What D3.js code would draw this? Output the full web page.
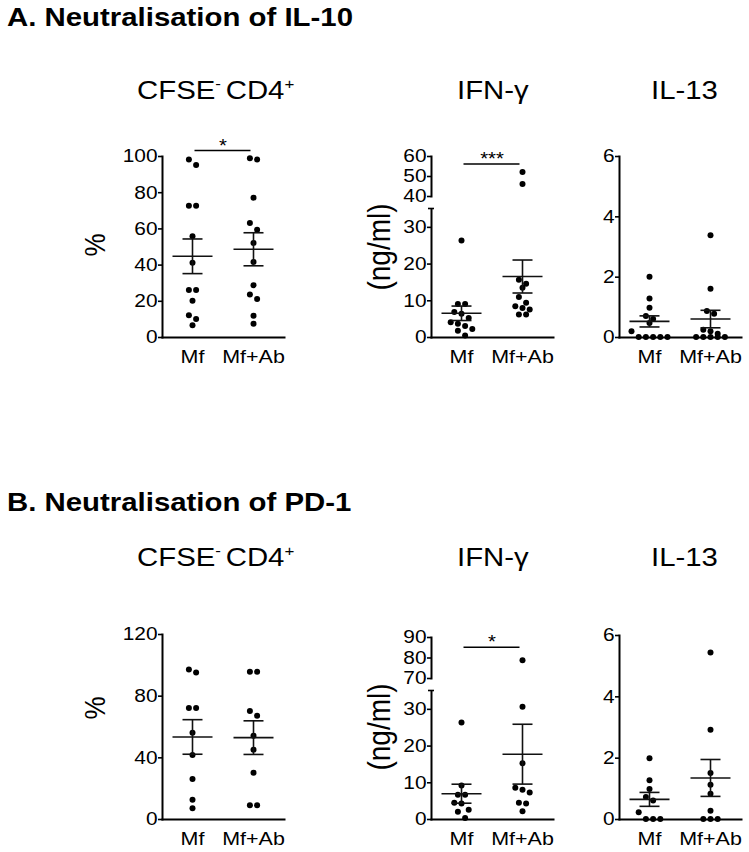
<!doctype html>
<html>
<head>
<meta charset="utf-8">
<script src="https://cdnjs.cloudflare.com/ajax/libs/d3/7.8.5/d3.min.js"></script>
<style>
	body { margin: 0; background: #fff; }
	svg text { font-family: "Liberation Sans", Arial, Helvetica, sans-serif; fill: #000; }
</style>
</head>
<body>
<script>

	// the figure text is a little wider than plain Arial, so every label is stretched in x
	var SX = 1.13;

	var groups = ["Mf", "Mf+Ab"];

	// A. Neutralisation of IL-10 (12 donors per group)
	var cfseA_mf = [98, 95, 72.5, 72.5, 55.6, 41, 26, 26, 20, 12, 10, 6.5];
	var cfseA_ab = [98.7, 98, 77, 63, 59.3, 52, 41.5, 28.6, 23.5, 21, 11.7, 7.3];
	var ifnA_mf = [26.3, 9.0, 9.0, 6.8, 6.3, 5.2, 4.0, 3.6, 3.0, 2.2, 1.7, 0.4];
	var ifnA_ab = [52, 46, 15.6, 14.5, 13.4, 10.9, 9.3, 8.4, 7.9, 7.5, 6.1, 6.1];
	var il13A_mf = [2.0, 1.28, 0.97, 0.7, 0.6, 0.46, 0.19, 0, 0, 0, 0, 0];
	var il13A_ab = [3.37, 1.6, 0.86, 0.77, 0.24, 0.19, 0.11, 0, 0, 0, 0, 0];

	// B. Neutralisation of PD-1 (9 donors per group)
	var cfseB_mf = [97, 95, 72, 72, 56, 41.5, 26, 12.5, 7];
	var cfseB_ab = [95.5, 95.5, 70, 67, 54, 45, 30, 9, 9];
	var ifnB_mf = [26.3, 9.1, 6.6, 6.6, 4.4, 4.2, 2.5, 2.0, 0.3];
	var ifnB_ab = [78.7, 30.6, 15.2, 8.5, 8.0, 7.2, 4.4, 4.2, 2.1];
	var il13B_mf = [1.98, 1.26, 0.98, 0.72, 0.6, 0.22, 0, 0, 0];
	var il13B_ab = [5.43, 2.91, 1.5, 1.12, 0.82, 0.27, 0, 0, 0];

	// tick labels (broken IFN axes: lower part, upper part)
	var cfseA_ticks = [0, 20, 40, 60, 80, 100];
	var cfseB_ticks = [0, 40, 80, 120];
	var ifnA_ticks = [[0, 10, 20, 30], [40, 50, 60]];
	var ifnB_ticks = [[0, 10, 20, 30], [70, 80, 90]];
	var il13_ticks = [0, 2, 4, 6];
	var ifnBreak = 35;

	// significance bars: [value, stars]
	var cfseA_sig = [103, "*"];
	var ifnA_sig = [56, "***"];
	var ifnB_sig = [85, "*"];

	var svg = d3.select("body").append("svg")
		.attr("width", 749)
		.attr("height", 852);

	function txt(sel, x, y, s, size, o) {
		o = o || {};
		return sel.append("text")
			.attr("transform", "translate(" + x + "," + y + ") scale(" + SX + ",1)" + (o.rot ? " rotate(-90)" : ""))
			.attr("font-size", size)
			.attr("font-weight", o.bold ? "bold" : null)
			.attr("text-anchor", o.anchor || "start")
			.text(s);
	}

	function cfseTitle(x, y) {
		var t = txt(svg, x, y, null, 26);
		t.append("tspan").text("CFSE");
		t.append("tspan").attr("font-size", 15).attr("dy", -10).text("- ");
		t.append("tspan").attr("dy", 10).text("CD4");
		t.append("tspan").attr("font-size", 15).attr("dy", -10).text("+");
	}

	// GraphPad style scatter: points close in y share a row and are spread around the centre
	function swarm(vals, y) {
		var idx = vals.map(function(v, i) { return i; })
			.sort(function(a, b) { return vals[b] - vals[a]; });
		var rows = [];
		idx.forEach(function(i) {
			var py = y(vals[i]);
			var r = rows[rows.length - 1];
			if (r && Math.abs(py - r.y) < 7) r.items.push(i);
			else rows.push({ y: py, items: [i] });
		});
		var off = [];
		rows.forEach(function(r) {
			r.items.forEach(function(i, k) { off[i] = (k - (r.items.length - 1) / 2) * 7.2; });
		});
		return off;
	}

	function drawPanel(p) {
		var g = svg.append("g").attr("transform", "translate(" + p.x + "," + p.y0 + ")");
		var x = d3.scaleBand().domain(groups).range([0, 122]);
		var bw = x.bandwidth() / 2;

		// y scale, polylinear when the axis is broken
		var y, segs;
		if (p.ticks.length == 2) {
			var lo = p.ticks[1][0], hi = p.ticks[1][p.ticks[1].length - 1];
			y = d3.scaleLinear().domain([0, ifnBreak, lo, hi]).range([0, -128.5, -141, -p.h]);
			segs = [
				{ s: d3.scaleLinear().domain([0, ifnBreak]).range([0, -128.5]), t: p.ticks[0] },
				{ s: d3.scaleLinear().domain([lo, hi]).range([-141, -p.h]), t: p.ticks[1] }
			];
		} else {
			var mx = p.ticks[p.ticks.length - 1];
			y = d3.scaleLinear().domain([0, mx]).range([0, -p.h]);
			segs = [{ s: y, t: p.ticks }];
		}

		segs.forEach(function(sg) {
			var ax = g.append("g")
				.call(d3.axisLeft(sg.s).tickValues(sg.t).tickFormat(d3.format("d")).tickSize(4).tickSizeOuter(0))
				.attr("font-size", 18.5)
				.attr("font-family", null);
			ax.select(".domain").attr("stroke-width", 2).attr("stroke-linecap", "square");
			ax.selectAll(".tick line").attr("stroke-width", 1.6);
			ax.selectAll(".tick text")
				.attr("x", 0)
				.attr("transform", "translate(-4.5,0) scale(" + SX + ",1)");
		});
		if (segs.length == 2) {
			g.append("line")
				.attr("x1", -3).attr("x2", 3)
				.attr("y1", y(ifnBreak)).attr("y2", y(ifnBreak))
				.attr("stroke", "#000").attr("stroke-width", 1.6);
		}

		// x axis
		var xa = g.append("g")
			.call(d3.axisBottom(x).tickSize(0).tickSizeOuter(0))
			.attr("font-size", 19)
			.attr("font-family", null);
		xa.select(".domain").attr("stroke-width", 2).attr("stroke-linecap", "square");
		xa.selectAll(".tick text")
			.attr("y", 0).attr("dy", null)
			.attr("transform", "translate(0,26) scale(" + SX + ",1)");

		// dots, mean and SEM
		p.series.forEach(function(vals, gi) {
			var cx = x(groups[gi]) + bw;
			var off = swarm(vals, y);
			g.append("g").selectAll("circle")
				.data(vals)
				.enter().append("circle")
				.attr("cx", function(d, i) { return cx + off[i]; })
				.attr("cy", function(d) { return y(d); })
				.attr("r", 3)
				.attr("fill", "#000");

			var m = d3.mean(vals);
			var se = d3.deviation(vals) / Math.sqrt(vals.length);
			var eb = g.append("g").attr("stroke", "#111").attr("stroke-width", 1.6);
			eb.append("line").attr("x1", cx - 20).attr("x2", cx + 20).attr("y1", y(m)).attr("y2", y(m));
			eb.append("line").attr("x1", cx).attr("x2", cx).attr("y1", y(m - se)).attr("y2", y(m + se));
			[m - se, m + se].forEach(function(v) {
				eb.append("line").attr("x1", cx - 10).attr("x2", cx + 10).attr("y1", y(v)).attr("y2", y(v));
			});
		});

		// significance bar
		if (p.sig) {
			var sy = y(p.sig[0]);
			g.append("line")
				.attr("x1", x(groups[0]) + bw + 2).attr("x2", x(groups[1]) + bw - 3)
				.attr("y1", sy).attr("y2", sy)
				.attr("stroke", "#000").attr("stroke-width", 1.6);
			txt(g, (x(groups[0]) + x(groups[1])) / 2 + bw, sy + 1, p.sig[1], 18, { anchor: "middle" });
		}

		// y label
		if (p.ylab) txt(svg, p.lx, p.ly, p.ylab, p.lsize, { rot: true, anchor: "middle" });
	}

	// section titles
	txt(svg, 7, 26, "A. Neutralisation of IL-10", 26, { bold: true });
	txt(svg, 7, 511, "B. Neutralisation of PD-1", 26, { bold: true });

	// panel titles
	cfseTitle(137, 99);
	txt(svg, 457, 99, "IFN-\u03b3", 26);
	txt(svg, 651, 99, "IL-13", 26);
	cfseTitle(137, 566);
	txt(svg, 457, 566, "IFN-\u03b3", 26);
	txt(svg, 651, 566, "IL-13", 26);

	var panels = [
		{ x: 162, y0: 337, h: 181, ticks: cfseA_ticks, series: [cfseA_mf, cfseA_ab], sig: cfseA_sig, ylab: "%", lx: 105, ly: 245, lsize: 26 },
		{ x: 431, y0: 337, h: 181, ticks: ifnA_ticks, series: [ifnA_mf, ifnA_ab], sig: ifnA_sig, ylab: "(ng/ml)", lx: 390, ly: 247, lsize: 28 },
		{ x: 619, y0: 337, h: 181, ticks: il13_ticks, series: [il13A_mf, il13A_ab] },
		{ x: 162, y0: 819, h: 185, ticks: cfseB_ticks, series: [cfseB_mf, cfseB_ab], ylab: "%", lx: 105, ly: 708, lsize: 26 },
		{ x: 431, y0: 819, h: 182, ticks: ifnB_ticks, series: [ifnB_mf, ifnB_ab], sig: ifnB_sig, ylab: "(ng/ml)", lx: 390, ly: 727, lsize: 28 },
		{ x: 619, y0: 819, h: 184, ticks: il13_ticks, series: [il13B_mf, il13B_ab] }
	];
	panels.forEach(drawPanel);

</script>
</body>
</html>
